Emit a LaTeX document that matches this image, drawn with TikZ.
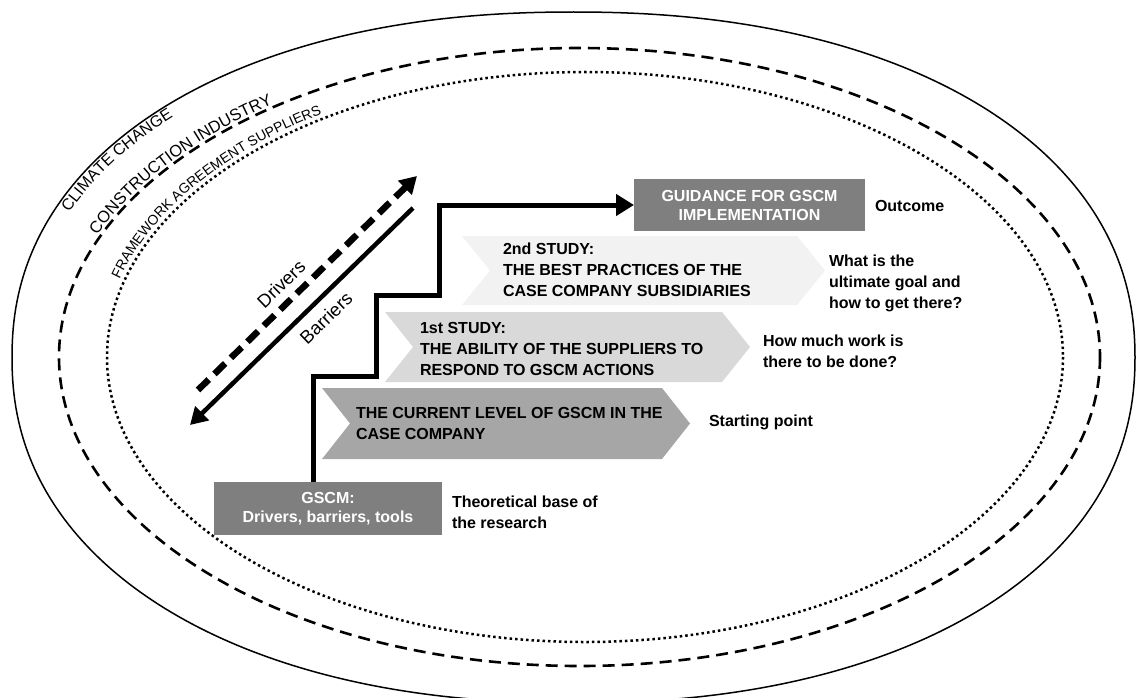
\documentclass[tikz,border=0pt]{standalone}
\usepackage{fontspec}
\setmainfont{Liberation Sans}
\usetikzlibrary{arrows.meta,decorations.text}
\definecolor{boxdark}{HTML}{7F7F7F}
\definecolor{chevmid}{HTML}{A6A6A6}
\definecolor{chevlight}{HTML}{D9D9D9}
\definecolor{chevpale}{HTML}{F2F2F2}
\begin{document}
\begin{tikzpicture}[x=1pt,y=-1pt,
  declare function={
    spx(\t)=cos(\t)*exp(-0.08*ln(abs(cos(\t))+0.00001));
    spy(\t)=sin(\t)*exp(-0.08*ln(abs(sin(\t))+0.00001));},
  every node/.style={inner sep=0pt,outer sep=0pt},
  lbl/.style={font=\bfseries\fontsize{16}{21}\selectfont,align=left,anchor=west},
  darkbox/.style={fill=boxdark,text=white,font=\bfseries\fontsize{16}{19}\selectfont,align=center},
  rotlbl/.style={font=\fontsize{18.5}{18.5}\selectfont,rotate=44},
  outerline/.style={line width=1.5},
  dashline/.style={line width=2.6,dash pattern=on 12pt off 7pt},
  dotline/.style={line width=2.5,dash pattern=on 2.5pt off 3pt},
  stair/.style={line width=5,-{Triangle[length=18pt,width=21pt]}},
  drv/.style={line width=6.5,dash pattern=on 15pt off 8pt,-{Triangle[length=17pt,width=19pt]}},
  bar/.style={line width=4.5,-{Triangle[length=17pt,width=19pt]}},
  curved/.style={decorate,decoration={text along path,text align=left,text={#1}}}]
\useasboundingbox (0,0) rectangle (1137,698);

% nested context rings (outer one slightly squarish)
\coordinate (dc) at (579.5,357);
\coordinate (tc) at (585,357);
\draw[outerline] plot[domain=0:360,samples=361,variable=\t]
  ({573.5+561.5*spx(\t)},{357.5+345.5*spy(\t)}) -- cycle;
\draw[dashline] (dc) ellipse [x radius=520.5,y radius=309];
\draw[dotline] (tc) ellipse [x radius=478,y radius=285];

% ring captions
\path[curved={|\fontsize{16}{16}\selectfont|CLIMATE CHANGE}]
  plot[domain=204:268,samples=90,variable=\t] ({573.5+548*spx(\t)},{357.5+332*spy(\t)});
\path[curved={|\fontsize{16.5}{16.5}\selectfont|CONSTRUCTION INDUSTRY}]
  (dc) ++(203:524 and 312) arc[start angle=203,end angle=265,x radius=524,y radius=312];
\path[curved={|\fontsize{14}{14}\selectfont|FRAMEWORK AGREEMENT SUPPLIERS}]
  (tc) ++(195.5:483 and 290) arc[start angle=195.5,end angle=260,x radius=483,y radius=290];

% study chevrons
\fill[chevpale] (462,236) -- (797,236) -- (825,270.5) -- (797,305) -- (462,305) -- (490,270.5) -- cycle;
\fill[chevlight] (385,312) -- (722,312) -- (750,347) -- (722,382) -- (385,382) -- (413,347) -- cycle;
\fill[chevmid] (322,388) -- (662,388) -- (690,423.5) -- (662,459) -- (322,459) -- (350,423.5) -- cycle;

\node[lbl] (s2) at (503,270) {2nd STUDY:\\THE BEST PRACTICES OF THE\\CASE COMPANY SUBSIDIARIES};
\node[lbl] (s1) at (420,349) {1st STUDY:\\THE ABILITY OF THE SUPPLIERS TO\\RESPOND TO GSCM ACTIONS};
\node[lbl] (s0) at (356,423.5) {THE CURRENT LEVEL OF GSCM IN THE\\CASE COMPANY};

% end boxes
\node[darkbox,minimum width=231,minimum height=52] (guide) at (749.5,205) {GUIDANCE FOR GSCM\\IMPLEMENTATION};
\node[darkbox,minimum width=228,minimum height=53] (gscm) at (328,508.5) {GSCM:\\Drivers, barriers, tools};

% side notes
\node[lbl] (n4) at (875,206) {Outcome};
\node[lbl] (n3) at (829,283) {What is the\\ultimate goal and\\how to get there?};
\node[lbl] (n2) at (763,351) {How much work is\\there to be done?};
\node[lbl] (n1) at (709,422) {Starting point};
\node[lbl] (n0) at (452,512) {Theoretical base of\\the research};

% staircase from theory to guidance
\draw[stair] ([xshift=-15pt]gscm.north) -- ++(0,-106) -- ++(63,0) -- ++(0,-81) -- ++(63,0) |- (guide.west);

% drivers and barriers
\coordinate (d0) at (198,390);
\coordinate (d1) at (417,176);
\coordinate (b0) at (413,208);
\coordinate (b1) at (190,425);
\draw[drv] (d0) -- (d1);
\draw[bar] (b0) -- (b1);
\node[rotlbl] (dl) at (281,284) {Drivers};
\node[rotlbl] (bl) at (326,318) {Barriers};
\end{tikzpicture}
\end{document}
